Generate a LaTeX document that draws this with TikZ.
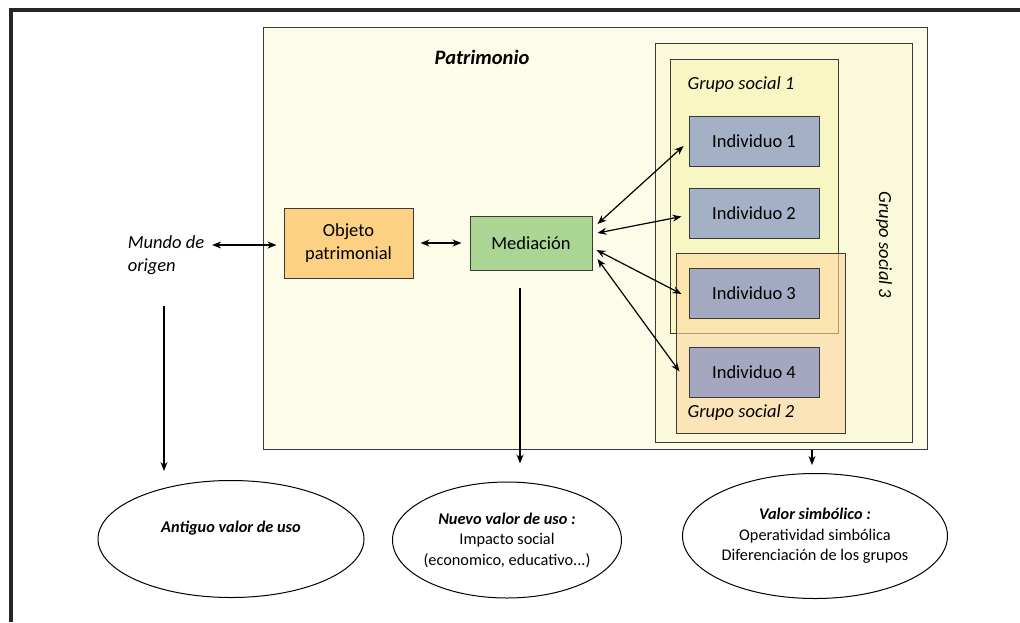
\documentclass[tikz,border=0pt]{standalone}
\usepackage{fontspec}
\setmainfont{Carlito}
\usetikzlibrary{arrows.meta,shapes.geometric}

\definecolor{patrifill}{HTML}{FDFCE9}
\definecolor{gtresfill}{HTML}{FAF9DC}
\definecolor{gunofill}{HTML}{F8F6C2}
\definecolor{gdosfill}{HTML}{FDD9A0}
\definecolor{indfill}{HTML}{A3B0C6}
\definecolor{indtres}{HTML}{A3A9C1}
\definecolor{indcuatro}{HTML}{A5A6C0}
\definecolor{objfill}{HTML}{FCD183}
\definecolor{medfill}{HTML}{ABD592}
\definecolor{borde}{HTML}{3A3A3A}

\begin{document}
\begin{tikzpicture}[x=1pt, y=-1pt, line width=1.2pt, >={Stealth[length=9pt,width=7pt]},
  caja/.style = {draw=borde, line width=1pt, rectangle, inner sep=0pt},
  indiv/.style = {caja, fill=indfill, minimum width=130pt, minimum height=50pt, font=\fontsize{18.5}{22}\selectfont},
  grupo/.style = {draw=borde, line width=1pt, rectangle, inner sep=0pt},
  valor/.style = {draw, line width=1pt, ellipse, inner sep=0pt, align=center, font=\fontsize{16.3}{20.5}\selectfont},
  etiq/.style = {font=\fontsize{18.5}{22}\selectfont\itshape}]
  \useasboundingbox (0,0) rectangle (1020,622);
  \draw[line width=4pt, draw=black!85] (1020,10) -- (11,10) -- (11,622);

  % cajas de grupos
  \node[grupo, fill=patrifill, minimum width=664pt, minimum height=422pt] (patrimonio) at (595,238) {};
  \node[font=\fontsize{20.5}{24}\selectfont\bfseries\itshape] (tpatri) at (482,57) {Patrimonio};
  \node[grupo, fill=gtresfill, minimum width=257pt, minimum height=399pt] (grupo3) at (783.5,242.5) {};
  \node[etiq, rotate=-90] (tgrupo3) at (884,245) {Grupo social 3};
  \node[grupo, fill=gunofill, minimum width=168pt, minimum height=274pt] (grupo1) at (754,196) {};
  \node[grupo, fill=gdosfill, fill opacity=0.6, minimum width=169pt, minimum height=180pt] (grupo2) at (760.5,343) {};
  \node[etiq] (tgrupo1) at (741,85) {Grupo social 1};
  \node[etiq] (tgrupo2) at (741,413) {Grupo social 2};

  % individuos
  \node[indiv] (ind1) at (754,141) {Individuo 1};
  \node[indiv] (ind2) at (754,213.5) {Individuo 2};
  \node[indiv, fill=indtres] (ind3) at (754,293) {Individuo 3};
  \node[indiv, fill=indcuatro] (ind4) at (754,372.5) {Individuo 4};

  \node[caja, fill=objfill, minimum width=129pt, minimum height=70pt, align=center, font=\fontsize{18.5}{23}\selectfont] (objeto) at (348.5,243) {Objeto\\patrimonial};
  \node[caja, fill=medfill, minimum width=122pt, minimum height=54pt, font=\fontsize{18.5}{22}\selectfont] (mediacion) at (531,243) {Mediación};
  \node[etiq, align=left, font=\fontsize{18.5}{23}\selectfont\itshape] (mundo) at (166,255) {Mundo de\\origen};

  % valores
  \node[valor, minimum width=266pt, minimum height=117pt] (antiguo) at (231,539) {\textbf{\textit{Antiguo valor de uso}}\\[4pt]};
  \node[valor, inner sep=-3pt, minimum width=229pt, minimum height=116pt] (nuevo) at (507,540) {\textbf{\textit{Nuevo valor de uso :}}\\Impacto social\\(economico, educativo...)};
  \node[valor, minimum width=265pt, minimum height=125pt] (simbolico) at (815,536) {\textbf{\textit{Valor simbólico :}}\\Operatividad simbólica\\Diferenciación de los grupos};

  % flechas
  \draw[<->] ([xshift=4pt,yshift=10pt]mundo.east) -- ([xshift=-7pt,yshift=-2pt]objeto.west);
  \draw[<->, shorten <=7pt, shorten >=8pt] (objeto.east) -- (mediacion.west);
  \draw[<->] ([xshift=5pt,yshift=19pt]mediacion.east) -- ([xshift=-5pt,yshift=-5pt]ind1.west);
  \draw[<->] ([xshift=5pt,yshift=10pt]mediacion.east) -- ([xshift=-7pt,yshift=-3pt]ind2.west);
  \draw[<->] ([xshift=4pt,yshift=-7pt]mediacion.east) -- ([xshift=-7pt,yshift=-1pt]ind3.west);
  \draw[<->] ([xshift=5pt,yshift=-16pt]mediacion.east) -- ([xshift=-9pt,yshift=1pt]ind4.west);
  \draw[->, shorten <=28pt, shorten >=9pt] ([xshift=-2pt]mundo.south) -- ([xshift=-2pt]mundo.south |- antiguo.north);
  \draw[->, shorten <=17pt, shorten >=18pt] ([xshift=-11pt]mediacion.south) -- ([xshift=-11pt]mediacion.south |- nuevo.north);
  \draw[->, shorten >=8pt] ([xshift=-3pt]patrimonio.south -| simbolico.north) -- ([xshift=-3pt]simbolico.north);
\end{tikzpicture}
\end{document}
